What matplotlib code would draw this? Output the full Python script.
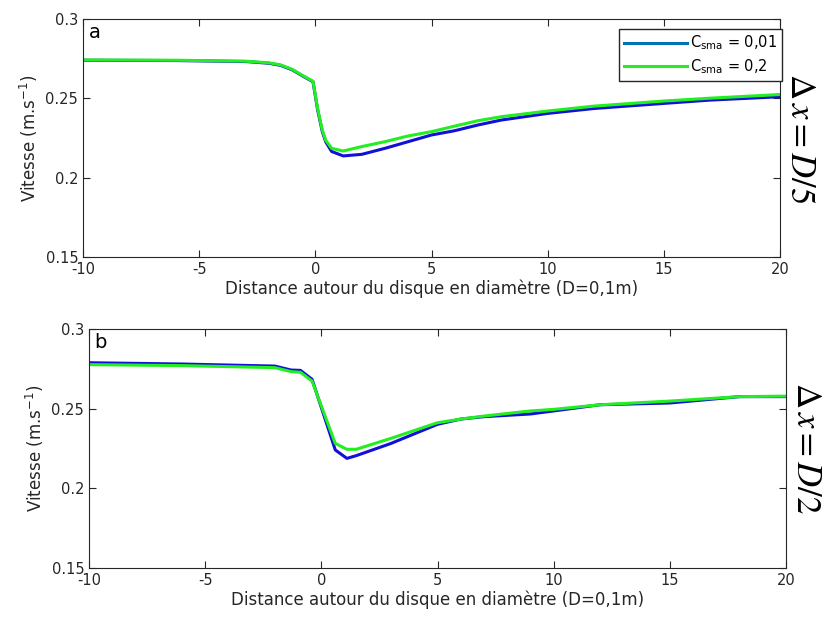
import numpy as np
import matplotlib
matplotlib.use('agg')
import matplotlib.pyplot as plt
from matplotlib.lines import Line2D

# panel a (dx = D/5)
xa = [-10, -6, -3, -2, -1.5, -1, -0.5, -0.1, 0.1, 0.3, 0.45, 0.7, 1.2, 2, 3, 4, 5, 6, 7, 8, 10, 12, 15, 17, 20]
va_blue = [0.274, 0.2738, 0.2732, 0.2721, 0.2708, 0.268, 0.2637, 0.2605, 0.2426, 0.229, 0.2225, 0.2165, 0.2137,
           0.2147, 0.2185, 0.2227, 0.2269, 0.2296, 0.2332, 0.2363, 0.2405, 0.2436, 0.2468, 0.2489, 0.251]
va_green = [0.2742, 0.274, 0.2734, 0.2724, 0.2711, 0.2683, 0.264, 0.2608, 0.2435, 0.2298, 0.2235, 0.2185, 0.2168,
            0.2196, 0.2227, 0.2263, 0.229, 0.2325, 0.2359, 0.2384, 0.242, 0.2451, 0.2483, 0.2501, 0.2524]

# panel b (dx = D/2)
xb = [-10, -6, -2, -1.3, -0.9, -0.4, 0.6, 1.1, 1.5, 3, 5, 6, 7, 9, 10, 12, 15, 18, 20]
vb_blue = [0.2788, 0.278, 0.2767, 0.2742, 0.274, 0.2684, 0.224, 0.2187, 0.2204, 0.2281, 0.2401, 0.2434,
           0.2449, 0.2466, 0.2485, 0.2524, 0.2535, 0.2575, 0.2575]
vb_green = [0.2776, 0.277, 0.2757, 0.2732, 0.2728, 0.2673, 0.2281, 0.2244, 0.2244, 0.2313, 0.2411, 0.2434,
            0.2453, 0.2485, 0.2495, 0.2524, 0.2547, 0.2575, 0.2578]

yticks = [0.15, 0.2, 0.25, 0.3]
ytick_labels = ['0.15', '0.2', '0.25', '0.3']
xticks = [-10, -5, 0, 5, 10, 15, 20]
labels = [r'C$_\mathregular{sma}$ = 0,01', r'C$_\mathregular{sma}$ = 0,2']
panels = [('a', xa, va_blue, va_green, r'$\Delta\,x = D/5$'),
          ('b', xb, vb_blue, vb_green, r'$\Delta\,x = D/2$')]

plt.rcParams['font.family'] = ['DejaVu Sans']
plt.rcParams['axes.unicode_minus'] = False
fig = plt.figure(figsize=(8.23, 6.19), dpi=100)
boxes = [[83/823, 1-257/619, 697/823, 238/619],
         [89/823, 1-567.7/619, 697/823, 238.7/619]]

for box, (tag, x, vb, vg, side) in zip(boxes, panels):
    ax = fig.add_axes(box)
    ax.plot(x, vb, color='#1010d8', lw=2.2)
    ax.plot(x, vg, color='#22ee22', lw=2.2)
    ax.set_xlim(-10, 20)
    ax.set_ylim(0.15, 0.3)
    ax.set_xticks(xticks)
    ax.set_yticks(yticks)
    ax.set_yticklabels(ytick_labels)
    ax.tick_params(direction='in', top=True, right=True, labelsize=10.5, length=5, colors='#262626')
    for s in ax.spines.values():
        s.set_color('#262626')
    ax.set_xlabel('Distance autour du disque en diamètre (D=0,1m)', fontsize=12, labelpad=2, color='#262626')
    ax.set_ylabel('Vitesse (m.s$^{-1}$)', fontsize=12, labelpad=4, color='#262626')
    ax.text(0.008, 0.985, tag, transform=ax.transAxes, ha='left', va='top', fontsize=14)
    ax.text(1.03, 0.5, side, transform=ax.transAxes, rotation=-90, ha='center', va='center',
            fontsize=25, math_fontfamily='stix')
    if tag == 'a':
        handles = [Line2D([], [], color='#0072BD', lw=2.2), Line2D([], [], color='#22ee22', lw=2.2)]
        leg = ax.legend(handles, labels, loc='upper right', fontsize=10.5, fancybox=False,
                        edgecolor='#262626', framealpha=1, handlelength=4.3, handletextpad=0.2,
                        borderpad=0.35, labelspacing=0.35, borderaxespad=0,
                        bbox_to_anchor=(1.003, 0.96))
        leg.get_frame().set_linewidth(1.0)

fig.savefig('out.png', dpi=100)
